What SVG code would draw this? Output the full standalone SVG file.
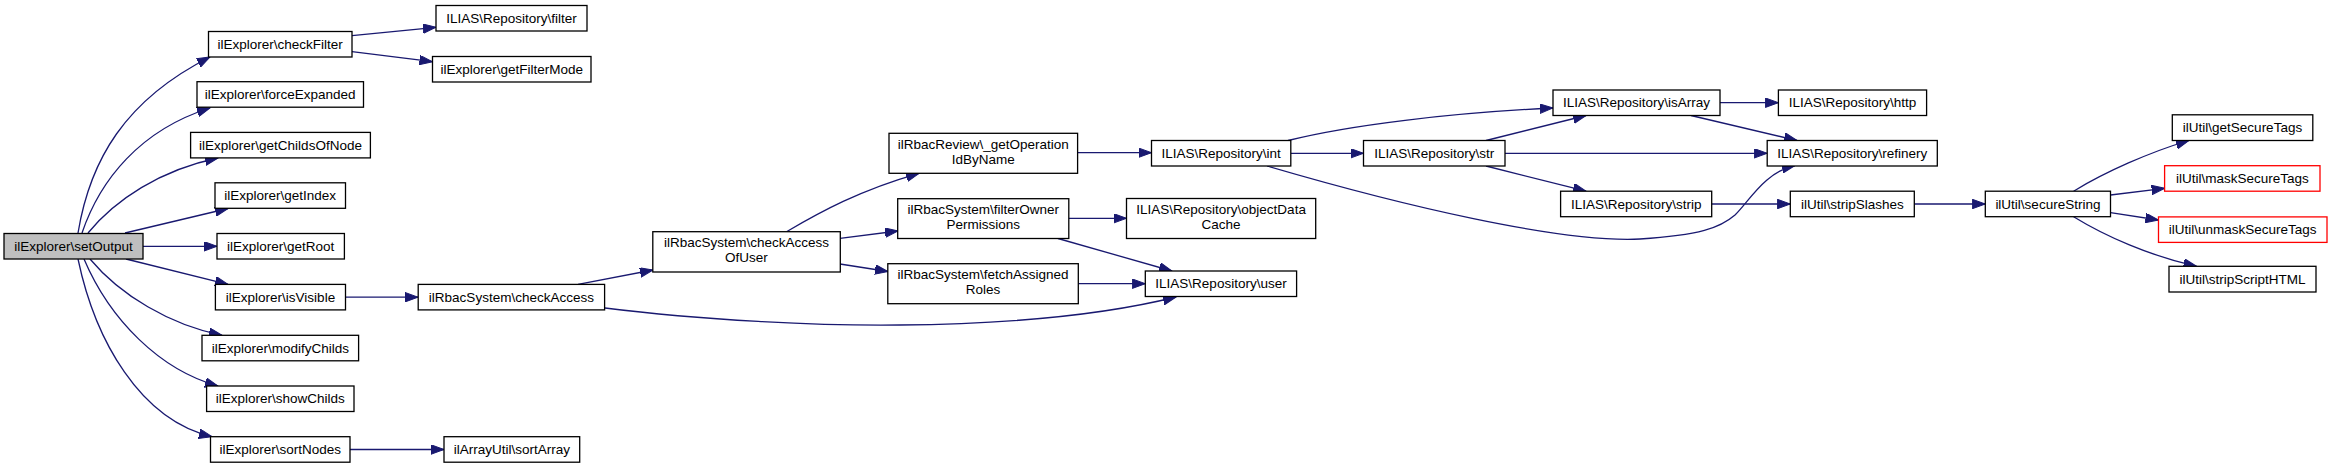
<svg xmlns="http://www.w3.org/2000/svg" width="2332" height="468" viewBox="0 0 2332 468">
<defs>
<marker id="arr" markerUnits="userSpaceOnUse" markerWidth="14" markerHeight="10" refX="13" refY="4.75" orient="auto">
<path d="M0,0 L13,4.75 L0,9.5 z" fill="#191970" stroke="#191970" stroke-width="1"/>
</marker>
<style>
.n rect{fill:#ffffff;stroke:#000000;stroke-width:1.3}
.root rect{fill:#bfbfbf}
.red rect{stroke:#ff0000}
.n text{font-family:"Liberation Sans",Arial,Helvetica,sans-serif;font-size:13.5px;fill:#000000;text-anchor:middle}
#edges path{fill:none;stroke:#191970;stroke-width:1.3;marker-end:url(#arr)}
</style>
</defs>
<rect x="0" y="0" width="2332" height="468" fill="#ffffff"/>
<g id="edges">
<path d="M78,233 C90,160 125,100 210,57"/>
<path d="M82,233 C100,180 140,130 210,108"/>
<path d="M88,233 C115,200 160,170 218,158"/>
<path d="M125,233 L228,208.5"/>
<path d="M143,246.3 L217,246.3"/>
<path d="M126,259 L228,284.4"/>
<path d="M90,259 C120,295 170,325 222,335.3"/>
<path d="M84,259 C110,320 160,370 218,386"/>
<path d="M78,259 C95,340 140,420 212,436.7"/>
<path d="M352,35.7 L436,27.3"/>
<path d="M352,51.7 L432.5,61.7"/>
<path d="M345.5,297.2 L418,297.2"/>
<path d="M350,449.5 L444,449.5"/>
<path d="M578,284.4 L653,270"/>
<path d="M605,308 C700,320 820,326 900,325 C1000,324 1100,316 1176,297"/>
<path d="M786.5,231.7 C820,212 860,190 919,173.3"/>
<path d="M840,238.3 L898,231"/>
<path d="M840,264 L888,271.5"/>
<path d="M1077.6,152.7 L1151.5,152.7"/>
<path d="M1068.8,218.3 L1126.5,218.3"/>
<path d="M1058,238.5 L1172,271"/>
<path d="M1078.3,283.7 L1145.3,283.7"/>
<path d="M1288,140.5 C1350,125 1450,113 1553,108"/>
<path d="M1290.8,153.3 L1363.5,153.3"/>
<path d="M1267,166 C1400,205 1560,243 1640,239 C1700,235 1720,228 1735,215 C1750,200 1765,172 1795,165.5"/>
<path d="M1486,140.5 L1586,115.5"/>
<path d="M1505,153.3 L1767.2,153.3"/>
<path d="M1486,166 L1586,191.2"/>
<path d="M1720,102.7 L1778.4,102.7"/>
<path d="M1691,115.5 L1797,140.5"/>
<path d="M1711.7,204 L1790.3,204"/>
<path d="M1914.3,204 L1985.3,204"/>
<path d="M2073.6,191.2 C2105,172 2150,152 2189,140.5"/>
<path d="M2110.5,195 L2164.6,188.3"/>
<path d="M2110.5,212.7 L2158.5,220"/>
<path d="M2073.6,216.7 C2105,236 2150,256 2196.5,266.3"/>
</g>
<g id="n_setOutput" class="n root"><rect x="4" y="233.5" width="139" height="25.5"/><text x="73.5" y="250.9">ilExplorer\setOutput</text></g>
<g id="n_checkFilter" class="n"><rect x="208.5" y="31.5" width="143.5" height="25.5"/><text x="280.2" y="48.9">ilExplorer\checkFilter</text></g>
<g id="n_filter" class="n"><rect x="436" y="5.5" width="151" height="25.5"/><text x="511.5" y="22.9">ILIAS\Repository\filter</text></g>
<g id="n_getFilterMode" class="n"><rect x="432.5" y="56.5" width="158.5" height="25.5"/><text x="511.7" y="73.9">ilExplorer\getFilterMode</text></g>
<g id="n_forceExpanded" class="n"><rect x="197" y="81.7" width="166.5" height="25.5"/><text x="280.2" y="99.1">ilExplorer\forceExpanded</text></g>
<g id="n_getChildsOfNode" class="n"><rect x="190.6" y="132.4" width="179.8" height="25.5"/><text x="280.5" y="149.8">ilExplorer\getChildsOfNode</text></g>
<g id="n_getIndex" class="n"><rect x="215" y="182.8" width="130.5" height="25.5"/><text x="280.2" y="200.2">ilExplorer\getIndex</text></g>
<g id="n_getRoot" class="n"><rect x="217" y="233.5" width="127.4" height="25.5"/><text x="280.7" y="250.9">ilExplorer\getRoot</text></g>
<g id="n_isVisible" class="n"><rect x="215.4" y="284.4" width="130.1" height="25.5"/><text x="280.5" y="301.8">ilExplorer\isVisible</text></g>
<g id="n_modifyChilds" class="n"><rect x="202" y="335.3" width="156.6" height="25.5"/><text x="280.3" y="352.7">ilExplorer\modifyChilds</text></g>
<g id="n_showChilds" class="n"><rect x="206.6" y="386" width="147.4" height="25.5"/><text x="280.3" y="403.4">ilExplorer\showChilds</text></g>
<g id="n_sortNodes" class="n"><rect x="210.5" y="436.7" width="139.5" height="25.5"/><text x="280.2" y="454.1">ilExplorer\sortNodes</text></g>
<g id="n_sortArray" class="n"><rect x="444" y="436.7" width="135.7" height="25.5"/><text x="511.8" y="454.1">ilArrayUtil\sortArray</text></g>
<g id="n_checkAccess" class="n"><rect x="418.2" y="284.4" width="186.4" height="25.5"/><text x="511.4" y="301.8">ilRbacSystem\checkAccess</text></g>
<g id="n_checkAccessOfUser" class="n"><rect x="652.8" y="231.7" width="187.5" height="40.3"/><text x="746.5" y="247.4">ilRbacSystem\checkAccess</text><text x="746.5" y="262.1">OfUser</text></g>
<g id="n_getOperationIdByName" class="n"><rect x="889" y="133.3" width="188.6" height="40"/><text x="983.3" y="148.9">ilRbacReview\_getOperation</text><text x="983.3" y="163.6">IdByName</text></g>
<g id="n_filterOwnerPermissions" class="n"><rect x="897.7" y="198.7" width="171.1" height="39.8"/><text x="983.2" y="214.2">ilRbacSystem\filterOwner</text><text x="983.2" y="228.9">Permissions</text></g>
<g id="n_fetchAssignedRoles" class="n"><rect x="887.8" y="263.7" width="190.5" height="40"/><text x="983" y="279.3">ilRbacSystem\fetchAssigned</text><text x="983" y="294">Roles</text></g>
<g id="n_int" class="n"><rect x="1151.5" y="140.5" width="139.3" height="25.5"/><text x="1221.1" y="157.9">ILIAS\Repository\int</text></g>
<g id="n_objectDataCache" class="n"><rect x="1126.5" y="198.5" width="189.2" height="40"/><text x="1221.1" y="214.1">ILIAS\Repository\objectData</text><text x="1221.1" y="228.8">Cache</text></g>
<g id="n_user" class="n"><rect x="1145.3" y="271" width="151.3" height="25.5"/><text x="1221" y="288.4">ILIAS\Repository\user</text></g>
<g id="n_str" class="n"><rect x="1363.5" y="140.5" width="141.5" height="25.5"/><text x="1434.2" y="157.9">ILIAS\Repository\str</text></g>
<g id="n_isArray" class="n"><rect x="1553" y="90" width="167" height="25.5"/><text x="1636.5" y="107.4">ILIAS\Repository\isArray</text></g>
<g id="n_strip" class="n"><rect x="1560.6" y="191.2" width="151.1" height="25.5"/><text x="1636.2" y="208.6">ILIAS\Repository\strip</text></g>
<g id="n_http" class="n"><rect x="1778.4" y="90" width="148.2" height="25.5"/><text x="1852.5" y="107.4">ILIAS\Repository\http</text></g>
<g id="n_refinery" class="n"><rect x="1767.2" y="140.5" width="170.1" height="25.5"/><text x="1852.3" y="157.9">ILIAS\Repository\refinery</text></g>
<g id="n_stripSlashes" class="n"><rect x="1790.3" y="191.2" width="124" height="25.5"/><text x="1852.3" y="208.6">ilUtil\stripSlashes</text></g>
<g id="n_secureString" class="n"><rect x="1985.3" y="191.2" width="125.2" height="25.5"/><text x="2047.9" y="208.6">ilUtil\secureString</text></g>
<g id="n_getSecureTags" class="n"><rect x="2172.3" y="114.8" width="140.5" height="25.7"/><text x="2242.5" y="132.3">ilUtil\getSecureTags</text></g>
<g id="n_maskSecureTags" class="n red"><rect x="2164.6" y="165.7" width="155.4" height="25.5"/><text x="2242.3" y="183.1">ilUtil\maskSecureTags</text></g>
<g id="n_unmaskSecureTags" class="n red"><rect x="2158.5" y="216.9" width="168.5" height="25.5"/><text x="2242.7" y="234.3">ilUtil\unmaskSecureTags</text></g>
<g id="n_stripScriptHTML" class="n"><rect x="2169" y="266.3" width="147" height="25.7"/><text x="2242.5" y="283.8">ilUtil\stripScriptHTML</text></g>
</svg>
